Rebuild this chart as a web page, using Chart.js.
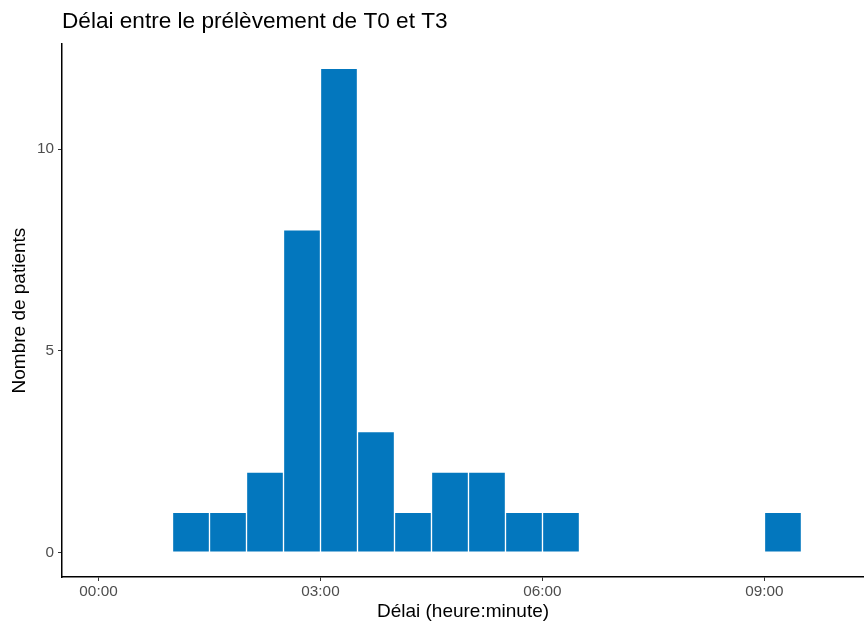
<!DOCTYPE html>
<html>
<head>
<meta charset="utf-8">
<script src="https://cdn.jsdelivr.net/npm/chart.js@4/dist/chart.umd.min.js"></script>
<style>
  html, body { margin: 0; padding: 0; background: #fff; }
  #wrap { width: 864px; height: 623px; }
</style>
</head>
<body>
<div id="wrap"><canvas id="histo"></canvas></div>
<script>
// bins de 30 minutes (début de classe)
const binStarts = ['01:00', '01:30', '02:00', '02:30', '03:00', '03:30', '04:00', '04:30', '05:00',
                   '05:30', '06:00', '06:30', '07:00', '07:30', '08:00', '08:30', '09:00'];
const counts = [1, 1, 2, 8, 12, 3, 1, 2, 2, 1, 1, 0, 0, 0, 0, 0, 1];
const binWidth = 30; // minutes
const xTicks = ['00:00', '03:00', '06:00', '09:00'];
const yTicks = [0, 5, 10];

const toMin = s => { const [h, m] = s.split(':').map(Number); return h * 60 + m; };
const toHHMM = v => String(Math.floor(v / 60)).padStart(2, '0') + ':' + String(v % 60).padStart(2, '0');

const points = binStarts.map((b, i) => ({ x: toMin(b) + binWidth / 2, y: counts[i] }));

const axisFont = { family: 'Liberation Sans, Arial, sans-serif', size: 15.3 };

new Chart(document.getElementById('histo'), {
  type: 'bar',
  data: {
    datasets: [{
      data: points,
      backgroundColor: '#0377BE',
      borderColor: '#ffffff',
      borderWidth: 1,
      borderSkipped: false,
      barPercentage: 1,
      categoryPercentage: 1
    }]
  },
  options: {
    responsive: true,
    maintainAspectRatio: false,
    animation: false,
    layout: { padding: 0 },
    plugins: {
      legend: { display: false },
      tooltip: { enabled: false },
      title: {
        display: true,
        text: 'Délai entre le prélèvement de T0 et T3',
        align: 'start',
        fullSize: false,
        color: '#000',
        font: { family: 'Liberation Sans, Arial, sans-serif', size: 22.6, weight: 'normal' },
        padding: { top: 8, bottom: 9 }
      }
    },
    scales: {
      x: {
        type: 'linear',
        offset: false,
        min: -29.6,
        max: 620.7,
        afterBuildTicks: s => { s.ticks = xTicks.map(t => ({ value: toMin(t) })); },
        afterFit: s => { s.height = 46; },
        ticks: {
          callback: v => toHHMM(v),
          color: '#4D4D4D',
          font: axisFont,
          padding: 2,
          maxRotation: 0,
          autoSkip: false
        },
        grid: { display: true, offset: false, drawOnChartArea: false, drawTicks: true, tickLength: 4, color: '#333333' },
        border: { display: true, color: '#000', width: 1.5 },
        title: {
          display: true,
          text: 'Délai (heure:minute)',
          color: '#000',
          font: { family: 'Liberation Sans, Arial, sans-serif', size: 19 },
          padding: { top: 0, bottom: 0 }
        }
      },
      y: {
        min: -0.6,
        max: 12.6,
        afterBuildTicks: s => { s.ticks = yTicks.map(v => ({ value: v })); },
        afterFit: s => { s.width = 62; },
        ticks: { color: '#4D4D4D', font: axisFont, padding: 4 },
        grid: { display: true, drawOnChartArea: false, drawTicks: true, tickLength: 4, color: '#333333' },
        border: { display: true, color: '#000', width: 1.5 },
        title: {
          display: true,
          text: 'Nombre de patients',
          color: '#000',
          font: { family: 'Liberation Sans, Arial, sans-serif', size: 19 },
          padding: { top: 8.6, bottom: 0 }
        }
      }
    }
  }
});
</script>
</body>
</html>
